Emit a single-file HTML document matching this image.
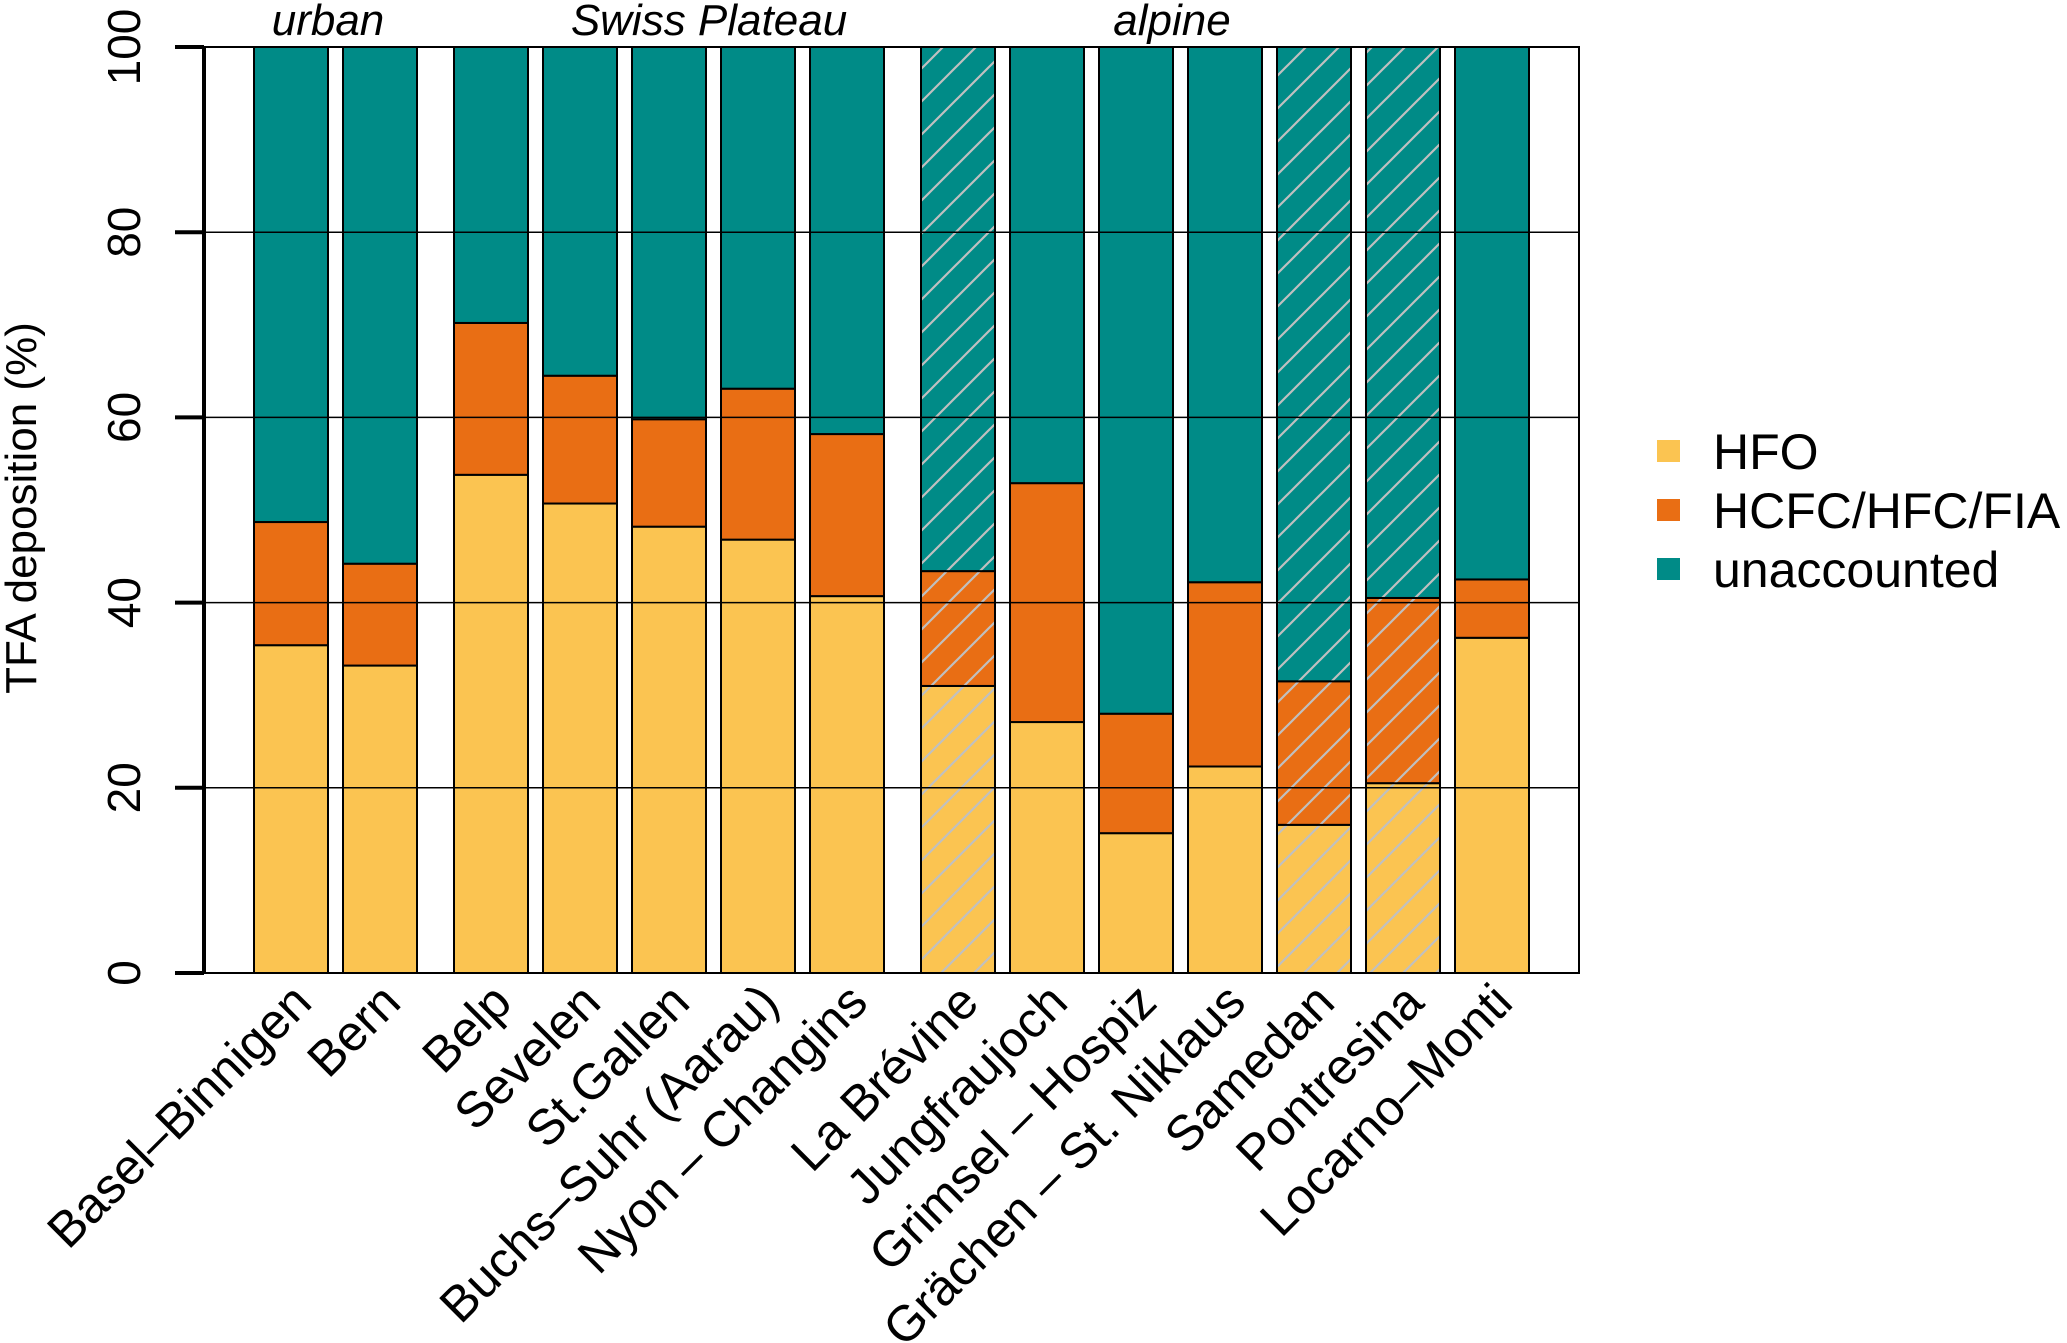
<!DOCTYPE html>
<html><head><meta charset="utf-8"><style>html,body{margin:0;padding:0;background:#fff}svg{display:block}</style></head>
<body>
<svg id="chart" width="2067" height="1343" viewBox="0 0 2067 1343" xmlns="http://www.w3.org/2000/svg" font-family="Liberation Sans, Arial, sans-serif">
<defs>
<pattern id="hatch" patternUnits="userSpaceOnUse" width="33" height="33">
<line x1="-2" y1="35" x2="35" y2="-2" stroke="#c0c0c0" stroke-width="2.2"/>
<line x1="-35" y1="35" x2="2" y2="-2" stroke="#c0c0c0" stroke-width="2.2"/>
<line x1="31" y1="35" x2="68" y2="-2" stroke="#c0c0c0" stroke-width="2.2"/>
</pattern>
</defs>
<g id="plot"></g>
</svg>
<script>
const sites = ["Basel\u2013Binnigen","Bern","Belp","Sevelen","St.Gallen","Buchs\u2013Suhr (Aarau)","Nyon \u2013 Changins","La Br\u00e9vine","Jungfraujoch","Grimsel \u2013 Hospiz","Gr\u00e4chen \u2013 St. Niklaus","Samedan","Pontresina","Locarno\u2013Monti"];
const hfo = [35.4,33.2,53.8,50.7,48.2,46.8,40.7,31.0,27.1,15.1,22.3,16.0,20.5,36.2];
const hcfc = [13.3,11.0,16.4,13.8,11.6,16.3,17.5,12.4,25.8,12.9,19.9,15.5,20.0,6.3];
const hatched = [false,false,false,false,false,false,false,true,false,false,false,true,true,false];
const groupOf = [0,0,1,1,1,1,1,2,2,2,2,2,2,2];
const groupNames = ["urban","Swiss Plateau","alpine"];
const groupLabelX = [328,709,1172];
const yTicks = [0,20,40,60,80,100];
const seriesNames = ["HFO","HCFC/HFC/FIA","unaccounted"];
const colors = ["#FBC451","#E96E14","#008B87"];

const NS="http://www.w3.org/2000/svg";
const g=document.getElementById('plot');
const L=204,R=1579,T=47,B=973;
const y=v=>B-(v/100)*(B-T);
const barW=74, gap=15, ggap=37, x0=254;
function bx(i){let x=x0;for(let k=0;k<i;k++){x+=barW+(groupOf[k+1]!==groupOf[k]?ggap:gap);}return x;}
function el(tag,attrs,parent){const e=document.createElementNS(NS,tag);for(const k in attrs)e.setAttribute(k,attrs[k]);(parent||g).appendChild(e);return e;}

sites.forEach((s,i)=>{
  const x=bx(i);
  const segs=[[0,hfo[i]],[hfo[i],hfo[i]+hcfc[i]],[hfo[i]+hcfc[i],100]];
  segs.forEach((sg,j)=>{
    const r=el('rect',{x:x,y:y(sg[1]),width:barW,height:y(sg[0])-y(sg[1]),fill:colors[j],stroke:'#000','stroke-width':2});
    
    
    if(hatched[i]){
      const h=el('rect',{x:x+1,y:y(sg[1])+1,width:barW-2,height:y(sg[0])-y(sg[1])-2,fill:'url(#hatch)'});
      
      
    }
  });
  const t=el('text',{x:0,y:0,'font-size':50,'text-anchor':'end',transform:`translate(${x+barW/2+23},${1005}) rotate(-45)`});
  t.textContent=s;
  
  
});
yTicks.forEach(v=>{
  if(v>0&&v<100){const l=el('line',{x1:L,x2:R,y1:y(v),y2:y(v),stroke:'#000','stroke-width':1.5});
  
  }
});
const box=el('rect',{x:L,y:T,width:R-L,height:B-T,fill:'none',stroke:'#000','stroke-width':2});


const ax=el('line',{x1:L,x2:L,y1:T,y2:B,stroke:'#000','stroke-width':4});


yTicks.forEach(v=>{
  const tk=el('line',{x1:L-29,x2:L,y1:y(v),y2:y(v),stroke:'#000','stroke-width':4});
  
  
  const t=el('text',{x:0,y:0,'font-size':46,'text-anchor':'middle',transform:`translate(140,${y(v)}) rotate(-90)`});
  t.textContent=v;
  
  
});
const yt=el('text',{x:0,y:0,'font-size':44,'text-anchor':'middle',transform:`translate(36,508) rotate(-90)`});
yt.textContent='TFA deposition (%)';


groupNames.forEach((n,gi)=>{
  const t=el('text',{x:groupLabelX[gi],y:35,'font-size':44,'font-style':'italic','text-anchor':'middle'});
  t.textContent=n;
  
  
});
seriesNames.forEach((n,j)=>{
  const cy=451+j*59;
  const r=el('rect',{x:1657,y:cy-11,width:23,height:22,fill:colors[j]});
  
  
  const t=el('text',{x:1713,y:cy+18,'font-size':50});
  t.textContent=n;
  
  
});
</script>
</body></html>
